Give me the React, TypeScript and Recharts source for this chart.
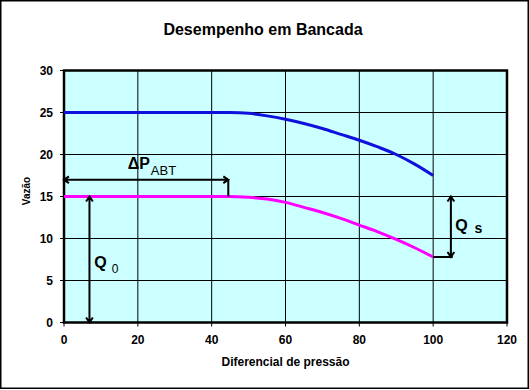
import React from 'react';
import {
  LineChart,
  Line,
  XAxis,
  YAxis,
  CartesianGrid,
  ReferenceArea,
  ReferenceLine,
  ReferenceDot,
  Label,
} from 'recharts';

const pressure = [0, 5, 10, 15, 20, 25, 30, 35, 40, 45, 50, 55, 60, 65, 70, 75, 80, 85, 90, 95, 100];
const flowUpper = [25, 25, 25, 25, 25, 25, 25, 25, 25, 25, 24.9, 24.6, 24.2, 23.7, 23.1, 22.4, 21.7, 20.9, 20.0, 18.85, 17.5];
const flowLower = [15, 15, 15, 15, 15, 15, 15, 15, 15, 15, 14.9, 14.7, 14.3, 13.7, 13.1, 12.4, 11.6, 10.8, 9.9, 8.9, 7.8];
const xTicks = [0, 20, 40, 60, 80, 100, 120];
const yTicks = [0, 5, 10, 15, 20, 25, 30];

const data = pressure.map((p, i) => ({ p, upper: flowUpper[i], lower: flowLower[i] }));

const FONT = '"Liberation Sans", Arial, sans-serif';

const arrow = (startHead: boolean, endHead: boolean) => (props: any) => {
  const { x1, y1, x2, y2 } = props;
  const a = Math.atan2(y2 - y1, x2 - x1);
  const L = 6;
  const w = 0.6;
  const head = (x: number, y: number, ang: number) =>
    `M${x + L * Math.cos(ang + w)},${y + L * Math.sin(ang + w)}L${x},${y}L${x + L * Math.cos(ang - w)},${y + L * Math.sin(ang - w)}`;
  let d = `M${x1},${y1}L${x2},${y2}`;
  if (startHead) d += head(x1, y1, a);
  if (endHead) d += head(x2, y2, a + Math.PI);
  return <path d={d} stroke="#000" strokeWidth={2} fill="none" />;
};

const annText = (
  main: string,
  sub: string,
  mainSize: number,
  subSize: number,
  subDx: number,
  subDy: number,
  subBold = false,
) =>
  (props: any) => (
    <text x={props.cx} y={props.cy} fontFamily={FONT} fill="#000" textAnchor="start">
      <tspan fontSize={mainSize} fontWeight="bold">{main}</tspan>
      <tspan fontSize={subSize} dx={subDx} dy={subDy} fontWeight={subBold ? 'bold' : 'normal'}>{sub}</tspan>
    </text>
  );

export default function App() {
  return (
    <div style={{ position: 'absolute', left: 0, top: 0, width: 529, height: 390, background: '#fff' }}>
      <LineChart
        width={529}
        height={390}
        data={data}
        margin={{ top: 70.5, right: 22, bottom: 37.5, left: 24 }}
      >
        <CartesianGrid stroke="#000" strokeWidth={1} fill="#CCFFFF" fillOpacity={1} />
        <XAxis
          dataKey="p"
          type="number"
          domain={[0, 120]}
          ticks={xTicks}
          height={30}
          axisLine={false}
          tickLine={{ stroke: '#000' }}
          tickSize={4}
          tickMargin={9}
          tick={{ fontSize: 12, fontWeight: 'bold', fill: '#000', fontFamily: FONT }}
        >
          <Label
            content={(p: any) => (
              <text
                x={p.viewBox.x + p.viewBox.width / 2}
                y={p.viewBox.y + 43.5}
                textAnchor="middle"
                fontFamily={FONT}
                fontSize={12}
                fontWeight="bold"
                fill="#000"
              >
                Diferencial de pressão
              </text>
            )}
          />
        </XAxis>
        <YAxis
          type="number"
          domain={[0, 30]}
          ticks={yTicks}
          width={40}
          axisLine={false}
          tickLine={{ stroke: '#000' }}
          tickSize={4}
          tickMargin={7}
          tick={{ fontSize: 12, fontWeight: 'bold', fill: '#000', fontFamily: FONT }}
        >
          <Label
            content={(p: any) => {
              const cx = p.viewBox.x + 2;
              const cy = p.viewBox.y + p.viewBox.height / 2 - 5.5;
              return (
                <text
                  x={cx}
                  y={cy}
                  transform={`rotate(-90 ${cx} ${cy})`}
                  textAnchor="middle"
                  dominantBaseline="central"
                  fontFamily={FONT}
                  fontSize={10}
                  fontWeight="bold"
                  fill="#000"
                >
                  Vazão
                </text>
              );
            }}
          />
        </YAxis>
        <Line
          type="monotone"
          dataKey="upper"
          stroke="#1010DC"
          strokeWidth={3}
          dot={false}
          isAnimationActive={false}
        />
        <Line
          type="monotone"
          dataKey="lower"
          stroke="#FF00FF"
          strokeWidth={3}
          dot={false}
          isAnimationActive={false}
        />
        <ReferenceLine segment={[{ x: 0, y: 17 }, { x: 44.5, y: 17 }]} shape={arrow(true, true)} ifOverflow="visible" />
        <ReferenceLine segment={[{ x: 44.5, y: 17 }, { x: 44.5, y: 15 }]} shape={arrow(false, false)} ifOverflow="visible" />
        <ReferenceLine segment={[{ x: 6.9, y: 15 }, { x: 6.9, y: 0 }]} shape={arrow(true, true)} ifOverflow="visible" />
        <ReferenceLine segment={[{ x: 104.8, y: 15 }, { x: 104.8, y: 7.8 }]} shape={arrow(true, true)} ifOverflow="visible" />
        <ReferenceLine segment={[{ x: 100, y: 7.8 }, { x: 105.3, y: 7.8 }]} shape={arrow(false, false)} ifOverflow="visible" />
        <ReferenceDot x={17.25} y={18.26} r={0} ifOverflow="visible" shape={annText('ΔP', 'ABT', 16, 13, 1, 6)} />
        <ReferenceDot x={8.2} y={6.48} r={0} ifOverflow="visible" shape={annText('Q', '0', 16, 12, 5, 5)} />
        <ReferenceDot x={105.96} y={10.95} r={0} ifOverflow="visible" shape={annText('Q', 's', 16, 14, 7, 2, true)} />
        <ReferenceArea x1={0} x2={120} y1={0} y2={30} fill="none" stroke="#000" strokeWidth={2.5} ifOverflow="visible" />
      </LineChart>
      <svg
        width={529}
        height={390}
        style={{ position: 'absolute', left: 0, top: 0, pointerEvents: 'none' }}
      >
        <text x={263} y={34.5} textAnchor="middle" fontFamily={FONT} fontSize={16} fontWeight="bold" fill="#000">
          Desempenho em Bancada
        </text>
        <rect x={0.75} y={0.75} width={527.5} height={387.5} fill="none" stroke="#000" strokeWidth={1.5} />
      </svg>
    </div>
  );
}
